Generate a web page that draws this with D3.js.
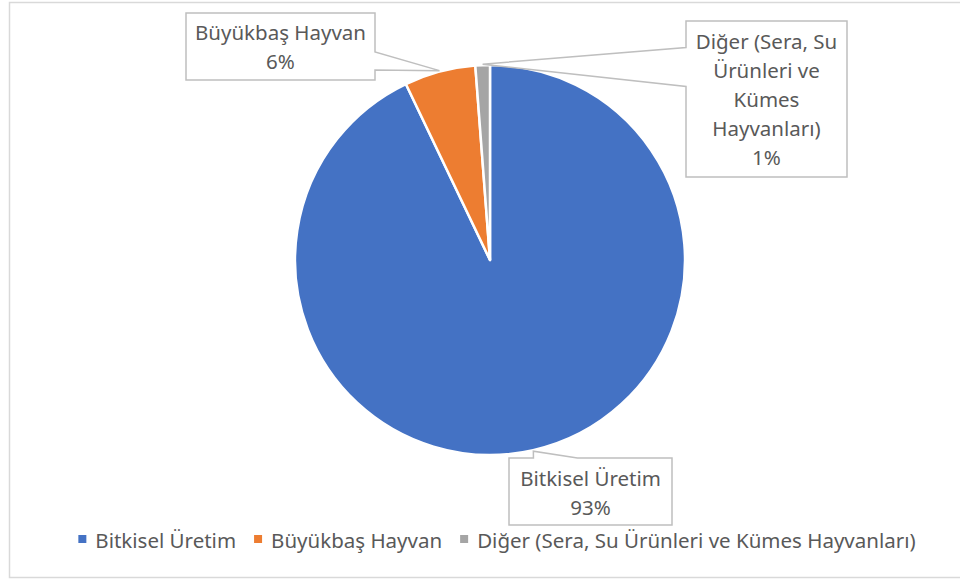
<!DOCTYPE html>
<html>
<head>
<meta charset="utf-8">
<script src="https://cdn.jsdelivr.net/npm/d3@7"></script>
<style>
  html, body { margin: 0; padding: 0; background: #fff; }
  svg { display: block; font-family: "Noto Sans", sans-serif; }
</style>
</head>
<body>
<div id="chart"></div>
<script>
// --- Data ---
const categories = ["Bitkisel Üretim", "Büyükbaş Hayvan", "Diğer (Sera, Su Ürünleri ve Kümes Hayvanları)"];
const values = [92.9, 5.9, 1.2];
const colors = ["#4472C4", "#ED7D31", "#A5A5A5"];
// label text lines (as wrapped in the original)
const labelLines = [
  ["Bitkisel Üretim"],
  ["Büyükbaş Hayvan"],
  ["Diğer (Sera, Su", "Ürünleri ve", "Kümes", "Hayvanları)"]
];

const width = 960, height = 581;
const cx = 490, cy = 260, radius = 195;
const fontSize = 20.5;
const textColor = "#595959";

const svg = d3.select("#chart").append("svg")
  .attr("width", width)
  .attr("height", height);

// --- Chart area border ---
svg.append("rect")
  .attr("x", 9.5).attr("y", 2.5)
  .attr("width", 970).attr("height", 575)
  .attr("fill", "#fff")
  .attr("stroke", "#d9d9d9")
  .attr("stroke-width", 1.5);

// --- Pie ---
const data = categories.map((c, i) => ({ name: c, value: values[i], color: colors[i], lines: labelLines[i] }));
const total = d3.sum(values);

const pie = d3.pie().sort(null).value(d => d.value);
const arcs = pie(data);
const arc = d3.arc().innerRadius(0).outerRadius(radius);

const g = svg.append("g").attr("transform", `translate(${cx},${cy})`);
g.selectAll("path.slice")
  .data(arcs)
  .enter()
  .append("path")
  .attr("class", "slice")
  .attr("d", arc)
  .attr("fill", d => d.data.color)
  .attr("stroke", "#fff")
  .attr("stroke-width", 2.5)
  .attr("stroke-linejoin", "round");

// --- Callout labels ---
// box: [x, y, w, h]; side of the pointer and the fraction range of that edge
const boxes = [
  { box: [509, 458, 163, 67], side: "top", from: 0.15, to: 0.42, firstBase: 486 },
  { box: [186, 13, 189, 67], side: "right", from: 0.58, to: 0.85, firstBase: 40 },
  { box: [686, 21, 161, 156], side: "left", from: 0.17, to: 0.42, firstBase: 49 }
];
const lineStep = 29;

function calloutPath(b, tip) {
  const [x, y, w, h] = b.box;
  const pts = [];
  const x1 = x + w, y1 = y + h;
  if (b.side === "top") {
    pts.push([x, y], [x + w * b.from, y], tip, [x + w * b.to, y], [x1, y], [x1, y1], [x, y1]);
  } else if (b.side === "right") {
    pts.push([x, y], [x1, y], [x1, y + h * b.from], tip, [x1, y + h * b.to], [x1, y1], [x, y1]);
  } else {
    pts.push([x, y], [x1, y], [x1, y1], [x, y1], [x, y + h * b.to], tip, [x, y + h * b.from]);
  }
  return "M" + pts.map(p => p.join(",")).join("L") + "Z";
}

arcs.forEach((a, i) => {
  const b = boxes[i];
  const mid = (a.startAngle + a.endAngle) / 2;
  const tip = [cx + Math.sin(mid) * (radius + 1), cy - Math.cos(mid) * (radius + 1)];

  svg.append("path")
    .attr("d", calloutPath(b, tip))
    .attr("fill", "#fff")
    .attr("stroke", "#bfbfbf")
    .attr("stroke-width", 1.5);

  const lines = a.data.lines.concat([Math.round(a.data.value / total * 100) + "%"]);
  const tx = b.box[0] + b.box[2] / 2;
  svg.append("g").selectAll("text")
    .data(lines)
    .enter()
    .append("text")
    .attr("x", tx)
    .attr("y", (d, j) => b.firstBase + j * lineStep)
    .attr("text-anchor", "middle")
    .attr("font-size", fontSize)
    .attr("fill", textColor)
    .text(d => d);
});

// --- Legend ---
const legend = svg.append("g");
const items = legend.selectAll("g.item")
  .data(data)
  .enter()
  .append("g")
  .attr("class", "item");

items.append("rect")
  .attr("width", 8).attr("height", 8)
  .attr("y", -13)
  .attr("fill", d => d.color);

items.append("text")
  .attr("x", 17)
  .attr("font-size", fontSize)
  .attr("fill", textColor)
  .text(d => d.name);

let offset = 0;
const itemX = [];
items.each(function () {
  itemX.push(offset);
  offset += this.getBBox().width + 18;
});
const legendW = offset - 18;
items.attr("transform", (d, i) => `translate(${itemX[i]},0)`);
legend.attr("transform", `translate(${497 - legendW / 2},548)`);
</script>
</body>
</html>
